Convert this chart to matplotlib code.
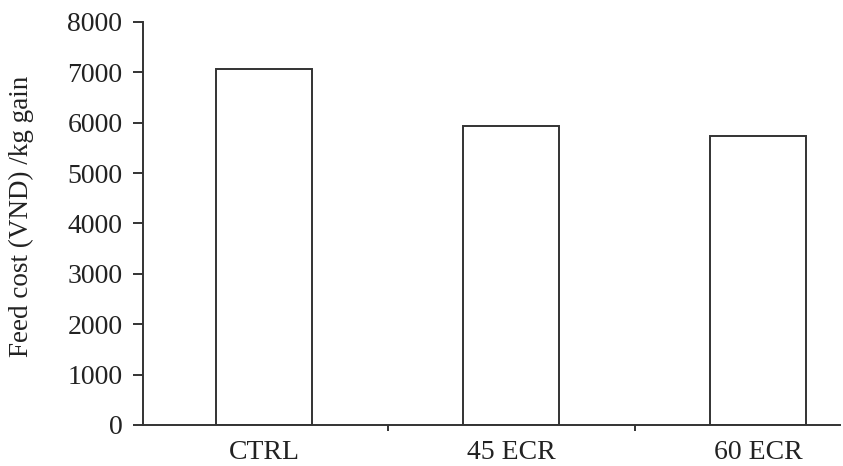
import matplotlib.pyplot as plt
from matplotlib.ticker import FixedLocator

plt.rcParams['font.family'] = ['Liberation Serif', 'DejaVu Serif']

categories = ['CTRL', '45 ECR', '60 ECR']
feed_cost = [7070, 5930, 5740]
y_ticks = [0, 1000, 2000, 3000, 4000, 5000, 6000, 7000, 8000]

ink = '#333333'
text_ink = '#222222'

fig = plt.figure(figsize=(8.43, 4.66), dpi=100)
ax = fig.add_axes([0.170, 0.088, 0.826, 0.865])

x = range(len(categories))
ax.bar(x, feed_cost, width=0.39, color='white', edgecolor=ink, linewidth=1.4)

ax.set_xlim(-0.49, 2.33)
ax.set_ylim(0, 8000)
ax.set_yticks(y_ticks)
ax.set_xticks(list(x))
ax.set_xticklabels(categories)
ax.xaxis.set_minor_locator(FixedLocator([0.5, 1.5]))

ax.spines['top'].set_visible(False)
ax.spines['right'].set_visible(False)
for side in ('left', 'bottom'):
    ax.spines[side].set_color(ink)
    ax.spines[side].set_linewidth(1.4)

ax.tick_params(axis='y', direction='out', length=7, width=1.4, color=ink,
               labelsize=20, labelcolor=text_ink, pad=8)
ax.tick_params(axis='x', which='major', length=0, labelsize=20,
               labelcolor=text_ink, pad=11)
ax.tick_params(axis='x', which='minor', direction='out', length=4,
               width=1.4, color=ink)

# y label placed by hand so it sits near the left edge like the original
fig.text(0.025, 0.536, 'Feed cost (VND) /kg gain', rotation=90,
         ha='center', va='center', fontsize=19.5, color=text_ink)

fig.savefig('out.png', dpi=100)
